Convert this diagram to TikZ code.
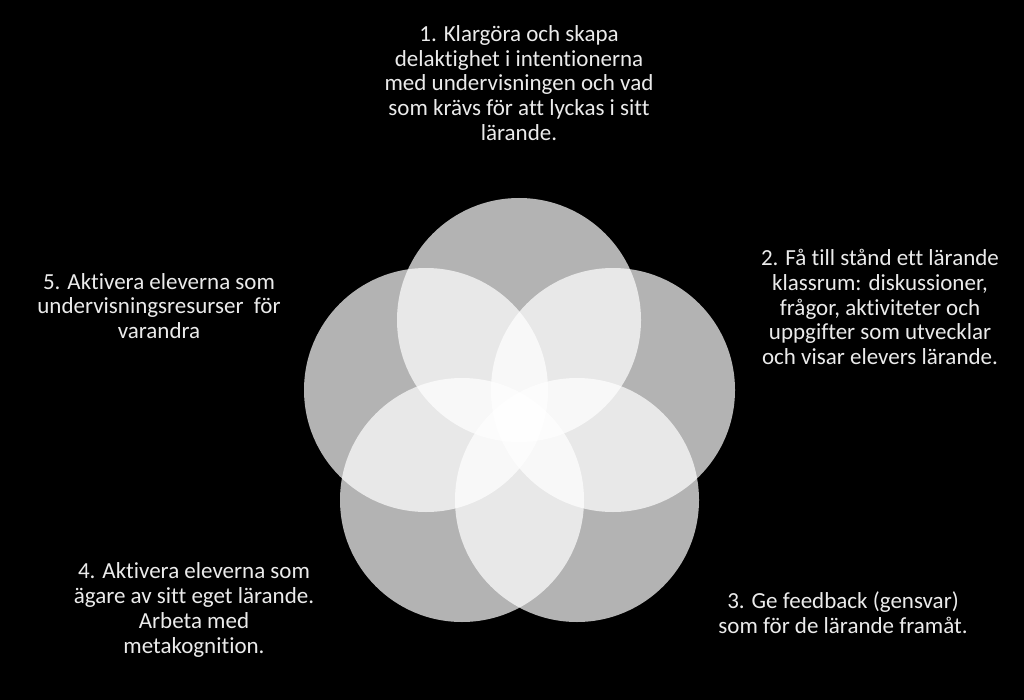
\documentclass[tikz,border=0pt]{standalone}
\usepackage{fontspec}
\setmainfont{Carlito}[Ligatures={NoCommon}]
\begin{document}
\begin{tikzpicture}[x=1pt,y=-1pt,
  petal/.style={fill=white,fill opacity=0.7,draw=none},
  label/.style={text=white!92!black,align=center,font=\fontsize{23}{24.7}\selectfont,inner sep=0pt}]
\fill[black] (0,0) rectangle (1024,700);
\useasboundingbox (0,0) rectangle (1024,700);
\coordinate (p1) at (519,320);
\coordinate (p2) at (613,390);
\coordinate (p3) at (577,500);
\coordinate (p4) at (462,500);
\coordinate (p5) at (426,390);
\foreach \p in {p1,p2,p3,p4,p5}{
  \fill[petal] (\p) circle (122);
}
\node[label] (t1) at (519,83) {1. Klargöra och skapa\\delaktighet i intentionerna\\med undervisningen och vad\\som krävs för att lyckas i sitt\\lärande.};
\node[label] (t2) at (880,307) {2. Få till stånd ett lärande\\klassrum: diskussioner,\\frågor, aktiviteter och\\uppgifter som utvecklar\\och visar elevers lärande.};
\node[label] (t3) at (843,613) {3. Ge feedback (gensvar)\\som för de lärande framåt.};
\node[label] (t4) at (194,610) {4. Aktivera eleverna som\\ägare av sitt eget lärande.\\Arbeta med\\metakognition.};
\node[label] (t5) at (159,306) {5. Aktivera eleverna som\\undervisningsresurser~ för\\varandra};
\end{tikzpicture}
\end{document}
